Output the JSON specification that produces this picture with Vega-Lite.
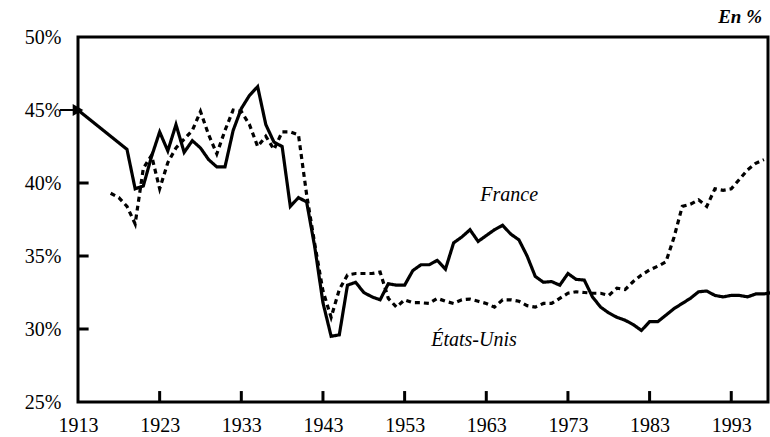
{
  "$schema": "https://vega.github.io/schema/vega-lite/v6.json",
  "autosize": "none",
  "width": 690,
  "height": 365,
  "padding": {"left": 78, "top": 37, "right": 2, "bottom": 35},
  "background": "white",
  "config": {
    "view": {"stroke": "black", "strokeWidth": 3},
    "font": "Liberation Serif"
  },
  "title": {
    "text": "En %",
    "anchor": "end",
    "frame": "group",
    "font": "Liberation Serif",
    "fontStyle": "italic",
    "fontWeight": "bold",
    "fontSize": 19,
    "color": "black",
    "offset": 0,
    "dx": -6
  },
  "datasets": {
    "series": [
      {"year": 1913, "share": 45.0, "country": "France"},
      {"year": 1919, "share": 42.3, "country": "France"},
      {"year": 1920, "share": 39.6, "country": "France"},
      {"year": 1921, "share": 39.8, "country": "France"},
      {"year": 1922, "share": 41.8, "country": "France"},
      {"year": 1923, "share": 43.5, "country": "France"},
      {"year": 1924, "share": 42.2, "country": "France"},
      {"year": 1925, "share": 44.0, "country": "France"},
      {"year": 1926, "share": 42.1, "country": "France"},
      {"year": 1927, "share": 42.9, "country": "France"},
      {"year": 1928, "share": 42.4, "country": "France"},
      {"year": 1929, "share": 41.6, "country": "France"},
      {"year": 1930, "share": 41.1, "country": "France"},
      {"year": 1931, "share": 41.1, "country": "France"},
      {"year": 1932, "share": 43.6, "country": "France"},
      {"year": 1933, "share": 45.1, "country": "France"},
      {"year": 1934, "share": 46.0, "country": "France"},
      {"year": 1935, "share": 46.6, "country": "France"},
      {"year": 1936, "share": 44.0, "country": "France"},
      {"year": 1937, "share": 42.8, "country": "France"},
      {"year": 1938, "share": 42.5, "country": "France"},
      {"year": 1939, "share": 38.4, "country": "France"},
      {"year": 1940, "share": 39.0, "country": "France"},
      {"year": 1941, "share": 38.7, "country": "France"},
      {"year": 1942, "share": 35.6, "country": "France"},
      {"year": 1943, "share": 31.8, "country": "France"},
      {"year": 1944, "share": 29.5, "country": "France"},
      {"year": 1945, "share": 29.6, "country": "France"},
      {"year": 1946, "share": 33.0, "country": "France"},
      {"year": 1947, "share": 33.2, "country": "France"},
      {"year": 1948, "share": 32.5, "country": "France"},
      {"year": 1949, "share": 32.2, "country": "France"},
      {"year": 1950, "share": 32.0, "country": "France"},
      {"year": 1951, "share": 33.1, "country": "France"},
      {"year": 1952, "share": 33.0, "country": "France"},
      {"year": 1953, "share": 33.0, "country": "France"},
      {"year": 1954, "share": 34.0, "country": "France"},
      {"year": 1955, "share": 34.4, "country": "France"},
      {"year": 1956, "share": 34.4, "country": "France"},
      {"year": 1957, "share": 34.7, "country": "France"},
      {"year": 1958, "share": 34.1, "country": "France"},
      {"year": 1959, "share": 35.9, "country": "France"},
      {"year": 1960, "share": 36.3, "country": "France"},
      {"year": 1961, "share": 36.8, "country": "France"},
      {"year": 1962, "share": 36.0, "country": "France"},
      {"year": 1963, "share": 36.4, "country": "France"},
      {"year": 1964, "share": 36.8, "country": "France"},
      {"year": 1965, "share": 37.1, "country": "France"},
      {"year": 1966, "share": 36.5, "country": "France"},
      {"year": 1967, "share": 36.1, "country": "France"},
      {"year": 1968, "share": 35.0, "country": "France"},
      {"year": 1969, "share": 33.6, "country": "France"},
      {"year": 1970, "share": 33.2, "country": "France"},
      {"year": 1971, "share": 33.25, "country": "France"},
      {"year": 1972, "share": 33.0, "country": "France"},
      {"year": 1973, "share": 33.8, "country": "France"},
      {"year": 1974, "share": 33.4, "country": "France"},
      {"year": 1975, "share": 33.35, "country": "France"},
      {"year": 1976, "share": 32.2, "country": "France"},
      {"year": 1977, "share": 31.5, "country": "France"},
      {"year": 1978, "share": 31.1, "country": "France"},
      {"year": 1979, "share": 30.8, "country": "France"},
      {"year": 1980, "share": 30.6, "country": "France"},
      {"year": 1981, "share": 30.3, "country": "France"},
      {"year": 1982, "share": 29.9, "country": "France"},
      {"year": 1983, "share": 30.5, "country": "France"},
      {"year": 1984, "share": 30.5, "country": "France"},
      {"year": 1985, "share": 30.95, "country": "France"},
      {"year": 1986, "share": 31.4, "country": "France"},
      {"year": 1987, "share": 31.75, "country": "France"},
      {"year": 1988, "share": 32.1, "country": "France"},
      {"year": 1989, "share": 32.55, "country": "France"},
      {"year": 1990, "share": 32.6, "country": "France"},
      {"year": 1991, "share": 32.3, "country": "France"},
      {"year": 1992, "share": 32.2, "country": "France"},
      {"year": 1993, "share": 32.3, "country": "France"},
      {"year": 1994, "share": 32.3, "country": "France"},
      {"year": 1995, "share": 32.2, "country": "France"},
      {"year": 1996, "share": 32.4, "country": "France"},
      {"year": 1997, "share": 32.4, "country": "France"},
      {"year": 1998, "share": 32.5, "country": "France"},
      {"year": 1917, "share": 39.3, "country": "États-Unis"},
      {"year": 1918, "share": 39.0, "country": "États-Unis"},
      {"year": 1919, "share": 38.4, "country": "États-Unis"},
      {"year": 1920, "share": 37.2, "country": "États-Unis"},
      {"year": 1921, "share": 41.0, "country": "États-Unis"},
      {"year": 1922, "share": 41.9, "country": "États-Unis"},
      {"year": 1923, "share": 39.6, "country": "États-Unis"},
      {"year": 1924, "share": 41.4, "country": "États-Unis"},
      {"year": 1925, "share": 42.4, "country": "États-Unis"},
      {"year": 1926, "share": 43.0, "country": "États-Unis"},
      {"year": 1927, "share": 43.6, "country": "États-Unis"},
      {"year": 1928, "share": 44.9, "country": "États-Unis"},
      {"year": 1929, "share": 43.3, "country": "États-Unis"},
      {"year": 1930, "share": 42.0, "country": "États-Unis"},
      {"year": 1931, "share": 43.6, "country": "États-Unis"},
      {"year": 1932, "share": 45.0, "country": "États-Unis"},
      {"year": 1933, "share": 44.9, "country": "États-Unis"},
      {"year": 1934, "share": 44.0, "country": "États-Unis"},
      {"year": 1935, "share": 42.5, "country": "États-Unis"},
      {"year": 1936, "share": 43.2, "country": "États-Unis"},
      {"year": 1937, "share": 42.3, "country": "États-Unis"},
      {"year": 1938, "share": 43.5, "country": "États-Unis"},
      {"year": 1939, "share": 43.5, "country": "États-Unis"},
      {"year": 1940, "share": 43.3, "country": "États-Unis"},
      {"year": 1941, "share": 39.2, "country": "États-Unis"},
      {"year": 1942, "share": 35.8, "country": "États-Unis"},
      {"year": 1943, "share": 32.6, "country": "États-Unis"},
      {"year": 1944, "share": 30.8, "country": "États-Unis"},
      {"year": 1945, "share": 32.7, "country": "États-Unis"},
      {"year": 1946, "share": 33.7, "country": "États-Unis"},
      {"year": 1947, "share": 33.8, "country": "États-Unis"},
      {"year": 1948, "share": 33.8, "country": "États-Unis"},
      {"year": 1949, "share": 33.8, "country": "États-Unis"},
      {"year": 1950, "share": 33.9, "country": "États-Unis"},
      {"year": 1951, "share": 32.1, "country": "États-Unis"},
      {"year": 1952, "share": 31.5, "country": "États-Unis"},
      {"year": 1953, "share": 32.0, "country": "États-Unis"},
      {"year": 1954, "share": 31.8, "country": "États-Unis"},
      {"year": 1955, "share": 31.8, "country": "États-Unis"},
      {"year": 1956, "share": 31.75, "country": "États-Unis"},
      {"year": 1957, "share": 32.1, "country": "États-Unis"},
      {"year": 1958, "share": 31.9, "country": "États-Unis"},
      {"year": 1959, "share": 31.75, "country": "États-Unis"},
      {"year": 1960, "share": 32.0, "country": "États-Unis"},
      {"year": 1961, "share": 32.05, "country": "États-Unis"},
      {"year": 1962, "share": 31.9, "country": "États-Unis"},
      {"year": 1963, "share": 31.75, "country": "États-Unis"},
      {"year": 1964, "share": 31.5, "country": "États-Unis"},
      {"year": 1965, "share": 32.0, "country": "États-Unis"},
      {"year": 1966, "share": 32.0, "country": "États-Unis"},
      {"year": 1967, "share": 31.9, "country": "États-Unis"},
      {"year": 1968, "share": 31.6, "country": "États-Unis"},
      {"year": 1969, "share": 31.5, "country": "États-Unis"},
      {"year": 1970, "share": 31.75, "country": "États-Unis"},
      {"year": 1971, "share": 31.75, "country": "États-Unis"},
      {"year": 1972, "share": 32.1, "country": "États-Unis"},
      {"year": 1973, "share": 32.45, "country": "États-Unis"},
      {"year": 1974, "share": 32.55, "country": "États-Unis"},
      {"year": 1975, "share": 32.5, "country": "États-Unis"},
      {"year": 1976, "share": 32.45, "country": "États-Unis"},
      {"year": 1977, "share": 32.45, "country": "États-Unis"},
      {"year": 1978, "share": 32.3, "country": "États-Unis"},
      {"year": 1979, "share": 32.8, "country": "États-Unis"},
      {"year": 1980, "share": 32.7, "country": "États-Unis"},
      {"year": 1981, "share": 33.25, "country": "États-Unis"},
      {"year": 1982, "share": 33.7, "country": "États-Unis"},
      {"year": 1983, "share": 34.05, "country": "États-Unis"},
      {"year": 1984, "share": 34.3, "country": "États-Unis"},
      {"year": 1985, "share": 34.6, "country": "États-Unis"},
      {"year": 1986, "share": 36.3, "country": "États-Unis"},
      {"year": 1987, "share": 38.4, "country": "États-Unis"},
      {"year": 1988, "share": 38.55, "country": "États-Unis"},
      {"year": 1989, "share": 38.85, "country": "États-Unis"},
      {"year": 1990, "share": 38.4, "country": "États-Unis"},
      {"year": 1991, "share": 39.6, "country": "États-Unis"},
      {"year": 1992, "share": 39.5, "country": "États-Unis"},
      {"year": 1993, "share": 39.6, "country": "États-Unis"},
      {"year": 1994, "share": 40.25, "country": "États-Unis"},
      {"year": 1995, "share": 40.9, "country": "États-Unis"},
      {"year": 1996, "share": 41.35, "country": "États-Unis"},
      {"year": 1997, "share": 41.6, "country": "États-Unis"}
    ],
    "labels": [
      {"year": 1965.8, "share": 39.2, "label": "France"},
      {"year": 1961.5, "share": 29.25, "label": "États-Unis"}
    ],
    "arrow": [
      {"year": 1910.8, "year2": 1913, "share": 45.0}
    ],
    "xticks": [
      {"year": 1923, "y0": 25, "y1": 25.75},
      {"year": 1933, "y0": 25, "y1": 25.75},
      {"year": 1943, "y0": 25, "y1": 25.75},
      {"year": 1953, "y0": 25, "y1": 25.75},
      {"year": 1963, "y0": 25, "y1": 25.75},
      {"year": 1973, "y0": 25, "y1": 25.75},
      {"year": 1983, "y0": 25, "y1": 25.75},
      {"year": 1993, "y0": 25, "y1": 25.75}
    ],
    "yticks": [
      {"share": 30, "x0": 1913, "x1": 1914.3},
      {"share": 35, "x0": 1913, "x1": 1914.3},
      {"share": 40, "x0": 1913, "x1": 1914.3}
    ]
  },
  "layer": [
    {
      "data": {"name": "series"},
      "mark": {"type": "line", "color": "black", "strokeWidth": 3.2, "strokeCap": "butt", "strokeJoin": "miter"},
      "encoding": {
        "x": {
          "field": "year",
          "type": "quantitative",
          "scale": {"domain": [1913, 1997.5], "nice": false, "zero": false},
          "axis": {
            "title": null,
            "values": [1913, 1923, 1933, 1943, 1953, 1963, 1973, 1983, 1993],
            "format": "d",
            "grid": false,
            "domain": false,
            "ticks": false,
            "tickSize": 0,
            "labelPadding": 13,
            "labelFlush": false,
            "labelFont": "Liberation Serif",
            "labelFontSize": 20,
            "labelColor": "black"
          }
        },
        "y": {
          "field": "share",
          "type": "quantitative",
          "scale": {"domain": [25, 50], "nice": false, "zero": false},
          "axis": {
            "title": null,
            "values": [25, 30, 35, 40, 45, 50],
            "labelExpr": "datum.value + '%'",
            "grid": false,
            "domain": false,
            "ticks": false,
            "tickSize": 0,
            "labelPadding": 17,
            "labelFlush": false,
            "labelFont": "Liberation Serif",
            "labelFontSize": 20,
            "labelColor": "black"
          }
        },
        "detail": {"field": "country"},
        "strokeDash": {
          "field": "country",
          "type": "nominal",
          "scale": {"domain": ["France", "États-Unis"], "range": [[1, 0], [5, 4]]},
          "legend": null
        }
      }
    },
    {
      "data": {"name": "xticks"},
      "mark": {"type": "rule", "color": "black", "strokeWidth": 3},
      "encoding": {
        "x": {"field": "year", "type": "quantitative"},
        "y": {"field": "y0", "type": "quantitative"},
        "y2": {"field": "y1"}
      }
    },
    {
      "data": {"name": "yticks"},
      "mark": {"type": "rule", "color": "black", "strokeWidth": 3},
      "encoding": {
        "y": {"field": "share", "type": "quantitative"},
        "x": {"field": "x0", "type": "quantitative"},
        "x2": {"field": "x1"}
      }
    },
    {
      "data": {"name": "labels"},
      "mark": {"type": "text", "font": "Liberation Serif", "fontStyle": "italic", "fontSize": 20, "color": "black"},
      "encoding": {
        "x": {"field": "year", "type": "quantitative"},
        "y": {"field": "share", "type": "quantitative"},
        "text": {"field": "label"}
      }
    },
    {
      "data": {"name": "arrow"},
      "mark": {"type": "rule", "color": "black", "strokeWidth": 2, "clip": false},
      "encoding": {
        "x": {"field": "year", "type": "quantitative"},
        "x2": {"field": "year2"},
        "y": {"field": "share", "type": "quantitative"}
      }
    },
    {
      "data": {"name": "arrow"},
      "mark": {"type": "point", "shape": "triangle-right", "filled": true, "color": "black", "opacity": 1, "size": 150, "clip": false},
      "encoding": {
        "x": {"field": "year2", "type": "quantitative"},
        "y": {"field": "share", "type": "quantitative"}
      }
    }
  ]
}
